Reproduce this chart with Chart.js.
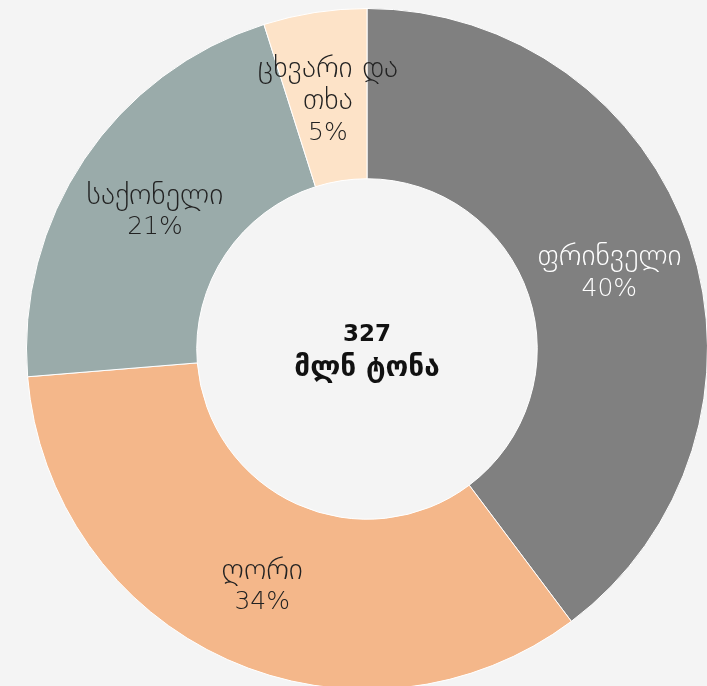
<!DOCTYPE html>
<html>
<head>
<meta charset="utf-8">
<script src="https://cdn.jsdelivr.net/npm/chart.js@4.4.0/dist/chart.umd.min.js"></script>
<style>
  html, body { margin: 0; padding: 0; background: #f4f4f4; overflow: hidden; }
  #wrap { width: 707px; height: 686px; overflow: hidden; }
</style>
</head>
<body>
<div id="wrap"><canvas id="meatChart" width="720" height="700"></canvas></div>
<script>
// meat production by type, million tonnes
const categories = [['ფრინველი'], ['ღორი'], ['საქონელი'], ['ცხვარი და', 'თხა']];
const tonnes = [130, 111, 70, 16];
const sliceColors = ['#808080', '#f4b78a', '#9aabaa', '#fde3c8'];
const labelColors = ['#ffffff', '#222222', '#222222', '#222222'];
const unitLabel = 'მლნ ტონა';

const FONT = '"DejaVu Sans", "Noto Sans", sans-serif';
const total = tonnes.reduce((a, b) => a + b, 0);

// draws category + percent inside each slice, and the total in the hole
const sliceLabels = {
  id: 'sliceLabels',
  afterDatasetsDraw(chart) {
    const ctx = chart.ctx;
    const meta = chart.getDatasetMeta(0);
    ctx.save();
    ctx.textAlign = 'center';
    ctx.textBaseline = 'middle';
    meta.data.forEach((arc, i) => {
      const pos = arc.tooltipPosition();
      const pct = Math.round(tonnes[i] / total * 100);
      const lines = [...categories[i], pct + '%'];
      const lh = 32;
      const y0 = pos.y + 5 - (lines.length - 1) * lh / 2;
      ctx.fillStyle = labelColors[i];
      lines.forEach((t, j) => {
        // georgian glyphs come from a narrower fallback, so give them more size
        ctx.font = (j < lines.length - 1 ? '300 30px ' : '300 25px ') + FONT;
        ctx.fillText(t, pos.x, y0 + j * lh);
      });
    });
    const c = meta.data[0];
    ctx.fillStyle = '#111111';
    ctx.font = 'bold 23px ' + FONT;
    ctx.fillText(String(total), c.x, c.y - 14);
    ctx.font = 'bold 28px ' + FONT;
    ctx.fillText(unitLabel, c.x, c.y + 20);
    ctx.restore();
  }
};

new Chart(document.getElementById('meatChart'), {
  type: 'doughnut',
  data: {
    labels: categories.map(l => l.join(' ')),
    datasets: [{
      data: tonnes,
      backgroundColor: sliceColors,
      borderColor: '#ffffff',
      borderWidth: 1
    }]
  },
  options: {
    responsive: false,
    animation: false,
    cutout: '50%',
    layout: { padding: { left: 26, top: 8, right: 12, bottom: 10 } },
    plugins: {
      legend: { display: false },
      tooltip: { enabled: false }
    }
  },
  plugins: [sliceLabels]
});
</script>
</body>
</html>
